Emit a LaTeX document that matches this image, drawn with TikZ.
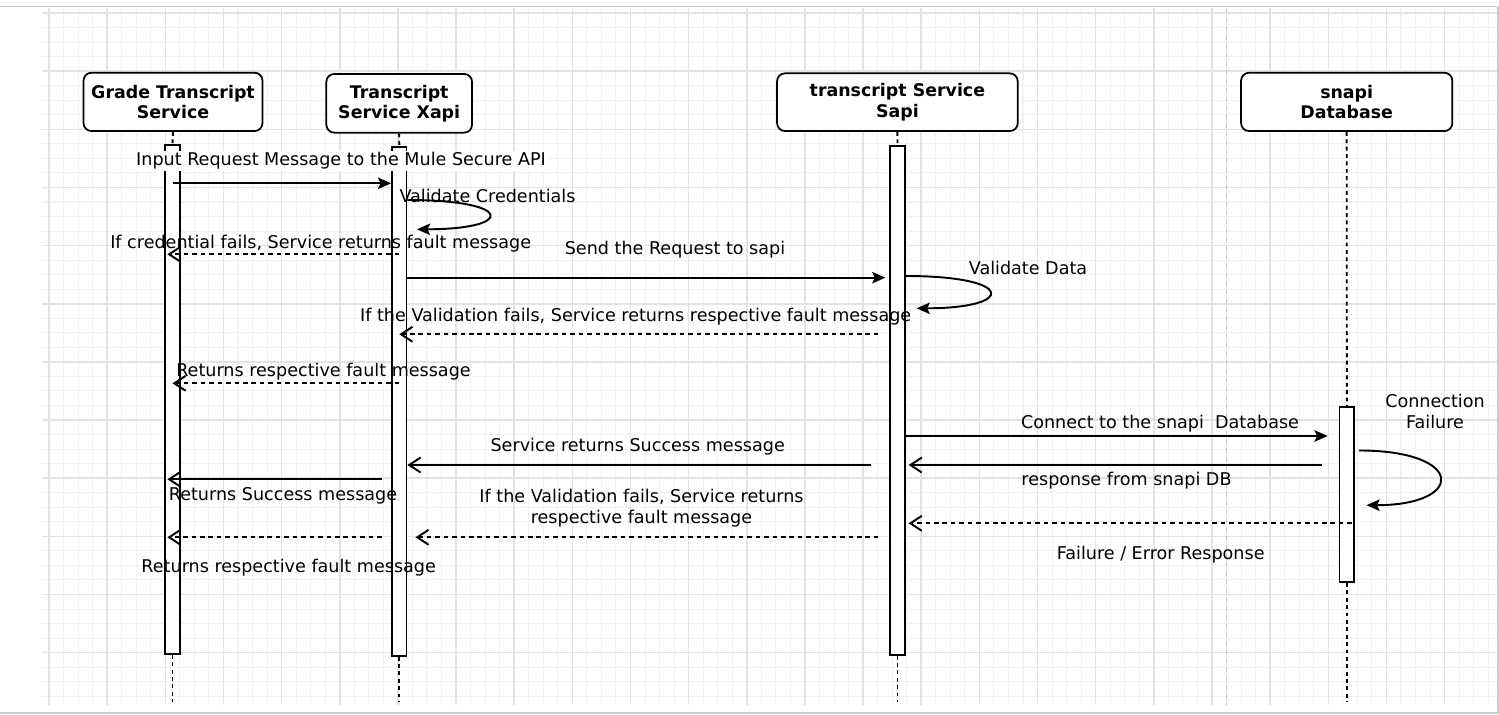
\documentclass[tikz,border=0pt]{standalone}
\usepackage{fontspec}
\setmainfont{DejaVu Sans}
\usetikzlibrary{arrows.meta}

\begin{document}
\begin{tikzpicture}[x=0.02cm,y=-0.02cm,
        actorbox/.style={draw=black,line width=1pt,fill=white,rounded corners=4.5pt,align=center,inner sep=0pt,font=\bfseries\fontsize{9.9}{11.4}\selectfont},
        actbar/.style={draw=black,line width=1pt,fill=white,minimum width=0.29cm,inner sep=0pt,anchor=north},
        lifeline/.style={line width=1.1pt,dash pattern=on 2.2pt off 2pt},
        callmsg/.style={line width=1.1pt,-{Stealth[length=7.5pt,width=6.5pt,inset=1.5pt]}},
        replymsg/.style={line width=1.1pt,-{Straight Barb[length=6.5pt,width=8.5pt]}},
        faultmsg/.style={replymsg,dash pattern=on 2.6pt off 2.2pt},
        msgtext/.style={anchor=base,inner sep=0pt,align=center,font=\fontsize{10}{11.8}\selectfont}]
        \useasboundingbox (0,0) rectangle (1499,715);

        \begin{scope}
            \clip (42,9) rectangle (1497,705);
            \foreach \i in {-1,...,100}
                \draw[gray!10,line width=0.6pt] ({49+14.5375*\i},0) -- ({49+14.5375*\i},715);
            \foreach \j in {-1,...,48}
                \draw[gray!10,line width=0.6pt] (0,{13+14.5375*\j}) -- (1499,{13+14.5375*\j});
            \foreach \i in {0,...,25}
                \draw[gray!22,line width=0.9pt] ({49+58.15*\i},0) -- ({49+58.15*\i},715);
            \foreach \j in {0,...,12}
                \draw[gray!22,line width=0.9pt] (0,{13+58.15*\j}) -- (1499,{13+58.15*\j});
        \end{scope}
        \draw[gray!40,line width=0.9pt] (0,6.7) -- (1497.7,6.7) -- (1497.7,713);
        \draw[gray!40,line width=1pt] (0,713) -- (1499,713);
        \draw[gray!45,line width=0.9pt,dash pattern=on 2.5pt off 2.5pt] (1226.7,9) -- (1226.7,705);

        \node[actorbox,minimum width=3.58cm,minimum height=1.166cm] (grade) at (173,101.9) {Grade Transcript\\Service};
        \node[actorbox,minimum width=2.914cm,minimum height=1.174cm] (xapi) at (399.2,103.3) {Transcript\\Service Xapi};
        \node[actorbox,minimum width=4.814cm,minimum height=1.154cm] (sapi) at (897.4,102.2) {transcript Service\\Sapi};
        \node[actorbox,minimum width=4.226cm,minimum height=1.166cm] (snapi) at (1346.7,101.9) {snapi\\Database};

        \node[actbar,minimum height=10.186cm] (gradeBar) at (172.5,144) {};
        \node[actbar,minimum height=10.18cm] (xapiBar) at (399.3,146) {};
        \node[actbar,minimum height=10.18cm] (sapiBar) at (897.5,145) {};
        \node[actbar,minimum height=3.512cm] (snapiBar) at (1346.8,405.8) {};

        \draw[lifeline] (grade.south) -- (gradeBar.north);
        \draw[lifeline] (gradeBar.south) -- (gradeBar.south |- 0,702);
        \draw[lifeline] (xapi.south) -- (xapiBar.north);
        \draw[lifeline] (xapiBar.south) -- (xapiBar.south |- 0,702);
        \draw[lifeline] (sapi.south) -- (sapiBar.north);
        \draw[lifeline] (sapiBar.south) -- (sapiBar.south |- 0,702);
        \draw[lifeline] (snapi.south) -- (snapiBar.north);
        \draw[lifeline] (snapiBar.south) -- (snapiBar.south |- 0,702);

        \draw[callmsg] (gradeBar.center |- 0,183.3) -- (xapiBar.west |- 0,183.3);
        \draw[callmsg,shorten >=0.19cm] (xapiBar.east |- 0,200) .. controls (515,200) and (515,229.3) .. (xapiBar.east |- 0,229.3);
        \draw[faultmsg,shorten >=0.06cm] (xapiBar.center |- 0,254.3) -- (gradeBar.west |- 0,254.3);
        \draw[callmsg,shorten >=0.08cm] (xapiBar.east |- 0,277.7) -- (sapiBar.west |- 0,277.7);
        \draw[callmsg,shorten >=0.22cm] (sapiBar.east |- 0,276) .. controls (1016,276) and (1016,308.3) .. (sapiBar.east |- 0,308.3);
        \draw[faultmsg,shorten <=0.22cm] (sapiBar.west |- 0,334.3) -- (xapiBar.center |- 0,334.3);
        \draw[faultmsg] (xapiBar.center |- 0,383.3) -- (gradeBar.center |- 0,383.3);
        \draw[callmsg,shorten >=0.22cm] (sapiBar.east |- 0,436) -- (snapiBar.west |- 0,436);
        \draw[replymsg,shorten <=0.33cm,shorten >=0.06cm] (snapiBar.west |- 0,465) -- (sapiBar.east |- 0,465);
        \draw[replymsg,shorten <=0.36cm] (sapiBar.west |- 0,465) -- (xapiBar.east |- 0,465);
        \draw[replymsg,shorten <=0.19cm,shorten >=0.06cm] (xapiBar.west |- 0,479.3) -- (gradeBar.west |- 0,479.3);
        \draw[callmsg,shorten <=0.08cm,shorten >=0.23cm] (snapiBar.east |- 0,450.5) .. controls (1465.5,450.5) and (1465.5,505.2) .. (snapiBar.east |- 0,505.2);
        \draw[faultmsg,shorten <=-0.1cm,shorten >=0.06cm] (snapiBar.center |- 0,523.3) -- (sapiBar.east |- 0,523.3);
        \draw[faultmsg,shorten <=0.22cm,shorten >=0.16cm] (sapiBar.west |- 0,537.3) -- (xapiBar.east |- 0,537.3);
        \draw[faultmsg,shorten <=0.19cm,shorten >=0.06cm] (xapiBar.west |- 0,537.3) -- (gradeBar.west |- 0,537.3);

        \node[msgtext,fill=white,inner sep=1pt] (lblInput) at (341,166) {Input Request Message to the Mule Secure API};
        \node[msgtext] (lblCred) at (487.5,202.7) {Validate Credentials};
        \node[msgtext] (lblCredFail) at (320.7,248.3) {If credential fails, Service returns fault message};
        \node[msgtext] (lblSend) at (675,254.3) {Send the Request to sapi};
        \node[msgtext] (lblData) at (1028,274.3) {Validate Data};
        \node[msgtext] (lblDataFail) at (635.7,322) {If the Validation fails, Service returns respective fault message};
        \node[msgtext] (lblFault) at (323.5,377) {Returns respective fault message};
        \node[msgtext] (lblConnect) at (1160,428.3) {Connect to the snapi~ Database};
        \node[msgtext,anchor=north] (lblConnFail) at (1435,394) {Connection\\Failure};
        \node[msgtext] (lblSuccess) at (637.7,452) {Service returns Success message};
        \node[msgtext] (lblResponse) at (1126.5,486) {response from snapi DB};
        \node[msgtext,anchor=north] (lblSapiFail) at (641.5,488.6) {If the Validation fails, Service returns\\respective fault message};
        \node[msgtext] (lblReturnOk) at (283,501) {Returns Success message};
        \node[msgtext] (lblError) at (1160.7,559.3) {Failure / Error Response};
        \node[msgtext] (lblReturnFault) at (288.7,572.7) {Returns respective fault message};
\end{tikzpicture}
\end{document}
